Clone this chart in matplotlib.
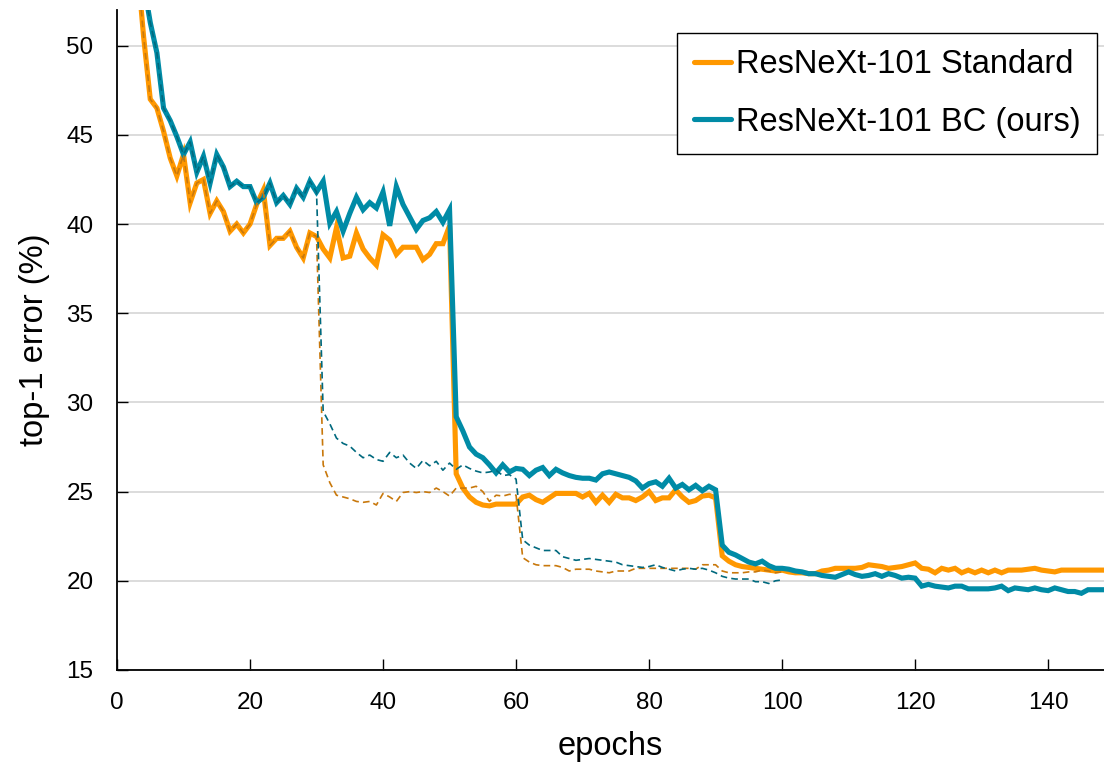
import numpy as np
import matplotlib
matplotlib.use("Agg")
import matplotlib.pyplot as plt

plt.rcParams['font.family'] = ['Liberation Sans', 'DejaVu Sans']

### ------------------- Data -------------------

# top-1 error per epoch, 150 epoch schedule (LR drops at 50 and 90)
std_150 = [80.0, 70.0, 60.0, 54.8, 50.5, 47.0, 46.5, 45.2, 43.7, 42.7,
           43.9, 41.2, 42.3, 42.5, 40.6, 41.3, 40.7, 39.6, 40.0, 39.5,
           40.0, 41.1, 41.9, 38.8, 39.2, 39.2, 39.6, 38.7, 38.1, 39.5,
           39.3, 38.6, 38.1, 39.8, 38.1, 38.2, 39.5, 38.6, 38.1, 37.7,
           39.4, 39.1, 38.3, 38.7, 38.7, 38.7, 38.0, 38.3, 38.9, 38.9,
           39.9, 26.0, 25.2, 24.7, 24.4, 24.25, 24.2, 24.3, 24.3, 24.3,
           24.3, 24.7, 24.8, 24.55, 24.4, 24.65, 24.9, 24.9, 24.9, 24.9,
           24.7, 24.9, 24.4, 24.8, 24.4, 24.85, 24.65, 24.65, 24.5, 24.7,
           25.0, 24.5, 24.65, 24.65, 25.1, 24.7, 24.4, 24.5, 24.75, 24.8,
           24.65, 21.4, 21.1, 20.9, 20.8, 20.75, 20.7, 20.65, 20.6, 20.55,
           20.6, 20.5, 20.45, 20.45, 20.4, 20.4, 20.55, 20.6, 20.7, 20.7,
           20.7, 20.7, 20.75, 20.9, 20.85, 20.8, 20.7, 20.75, 20.8, 20.9,
           21.0, 20.7, 20.65, 20.45, 20.7, 20.6, 20.7, 20.45, 20.6, 20.45,
           20.6, 20.45, 20.6, 20.45, 20.6, 20.6, 20.6, 20.65, 20.7, 20.6,
           20.55, 20.5, 20.6, 20.6, 20.6, 20.6, 20.6, 20.6, 20.6, 20.6]

bc_150 = [80.0, 70.0, 62.0, 57.0, 53.5, 51.3, 49.6, 46.5, 45.8, 44.9,
          43.9, 44.6, 42.9, 43.8, 42.3, 43.9, 43.2, 42.1, 42.4, 42.1,
          42.1, 41.2, 41.5, 42.3, 41.2, 41.6, 41.1, 42.0, 41.5, 42.4,
          41.8, 42.4, 40.05, 40.7, 39.6, 40.6, 41.5, 40.8, 41.2, 40.9,
          41.8, 39.9, 42.1, 41.1, 40.4, 39.7, 40.2, 40.35, 40.7, 40.1,
          40.8, 29.2, 28.4, 27.5, 27.1, 26.9, 26.5, 26.05, 26.5, 26.1,
          26.3, 26.25, 25.9, 26.2, 26.35, 25.9, 26.25, 26.05, 25.9, 25.8,
          25.75, 25.75, 25.65, 26.0, 26.1, 26.0, 25.9, 25.8, 25.6, 25.2,
          25.45, 25.55, 25.3, 25.75, 25.2, 25.4, 25.1, 25.35, 25.05, 25.3,
          25.1, 22.0, 21.6, 21.45, 21.25, 21.05, 20.95, 21.1, 20.85, 20.7,
          20.7, 20.65, 20.55, 20.5, 20.4, 20.4, 20.3, 20.25, 20.2, 20.35,
          20.5, 20.35, 20.25, 20.3, 20.4, 20.25, 20.4, 20.3, 20.15, 20.2,
          20.15, 19.7, 19.8, 19.7, 19.65, 19.6, 19.7, 19.7, 19.55, 19.55,
          19.55, 19.55, 19.6, 19.7, 19.45, 19.6, 19.55, 19.5, 19.6, 19.5,
          19.45, 19.6, 19.5, 19.4, 19.4, 19.3, 19.5, 19.5, 19.5, 19.5]

# 100 epoch schedule (LR drops at 30, 60, 90); identical to the above up to epoch 30
std_100_tail = [26.5, 25.5, 24.8, 24.7, 24.6, 24.45, 24.4, 24.45, 24.25, 24.9,
                24.7, 24.45, 24.95, 25.0, 24.95, 25.0, 24.95, 25.2, 25.0, 24.75,
                25.2, 25.2, 25.2, 25.3, 25.0, 24.45, 24.8, 24.75, 24.85, 24.8,
                21.3, 21.05, 20.9, 20.85, 20.85, 20.85, 20.75, 20.55, 20.65, 20.65,
                20.65, 20.55, 20.5, 20.45, 20.55, 20.55, 20.55, 20.7, 20.7, 20.7,
                20.7, 20.7, 20.7, 20.7, 20.7, 20.7, 20.65, 20.9, 20.9, 20.9,
                20.55, 20.45, 20.45, 20.45, 20.5, 20.5, 20.6, 20.55, 20.45, 20.5]

bc_100_tail = [29.5, 28.8, 28.0, 27.7, 27.55, 27.2, 26.9, 27.05, 26.8, 26.7,
               27.2, 26.9, 27.05, 26.6, 26.3, 26.75, 26.45, 26.7, 26.2, 26.6,
               26.25, 26.5, 26.3, 26.15, 26.05, 26.1, 26.2, 25.9, 25.95, 25.7,
               22.3, 22.0, 21.85, 21.7, 21.7, 21.7, 21.35, 21.25, 21.15, 21.2,
               21.25, 21.2, 21.15, 21.1, 21.05, 20.9, 20.85, 20.8, 20.75, 20.8,
               20.9, 20.75, 20.65, 20.55, 20.65, 20.7, 20.65, 20.7, 20.6, 20.45,
               20.25, 20.15, 20.1, 20.1, 20.1, 19.95, 19.95, 19.85, 20.0, 20.05]

std_100 = std_150[:31] + std_100_tail
bc_100 = bc_150[:31] + bc_100_tail

labels = ['ResNeXt-101 Standard', 'ResNeXt-101 BC (ours)']

### ------------------- Plot -------------------

orange = '#ff9800'
teal = '#008ba6'
orange_dk = '#c8780c'
teal_dk = '#00697e'

fig = plt.figure(figsize=(11.04, 7.62), dpi=100)
ax = fig.add_axes([117/1104, 92/762, 987/1104, 660/762])

ep150 = np.arange(len(std_150))
ep100 = np.arange(len(std_100))

ax.plot(ep150, std_150, color=orange, lw=3.7, solid_joinstyle='miter', label=labels[0], zorder=3)
ax.plot(ep150, bc_150, color=teal, lw=3.7, solid_joinstyle='miter', label=labels[1], zorder=4)
ax.plot(ep100, std_100, color=orange_dk, lw=1.2, ls=(0, (4, 2.5)), zorder=5)
ax.plot(ep100, bc_100, color=teal_dk, lw=1.2, ls=(0, (4, 2.5)), zorder=6)

ax.set_xlim(0, 148.4)
ax.set_ylim(15, 52)
ax.set_xticks(np.arange(0, 141, 20))
ax.set_yticks(np.arange(15, 51, 5))
ax.yaxis.grid(True, color='#d9d9d9', lw=1.3)
ax.set_axisbelow(True)

for s in ['top', 'right']:
    ax.spines[s].set_visible(False)
for s in ['left', 'bottom']:
    ax.spines[s].set_linewidth(1.3)

ax.tick_params(direction='in', length=8, width=1.0, labelsize=17.5)
ax.tick_params(axis='x', pad=16)
ax.tick_params(axis='y', pad=17)
ax.set_xlabel('epochs', fontsize=23.5, labelpad=12)
ax.set_ylabel('top-1 error (%)', fontsize=23.5, labelpad=12)

leg = ax.legend(loc='upper right', bbox_to_anchor=(0.993, 0.965), borderaxespad=0,
                fontsize=23.5, handlelength=1.15, handletextpad=0.15, labelspacing=0.8,
                borderpad=0.5, fancybox=False, edgecolor='black', framealpha=1)
leg.get_frame().set_linewidth(1.0)
for h in leg.get_lines():
    h.set_solid_capstyle('round')

plt.savefig('out.png', dpi=100)
